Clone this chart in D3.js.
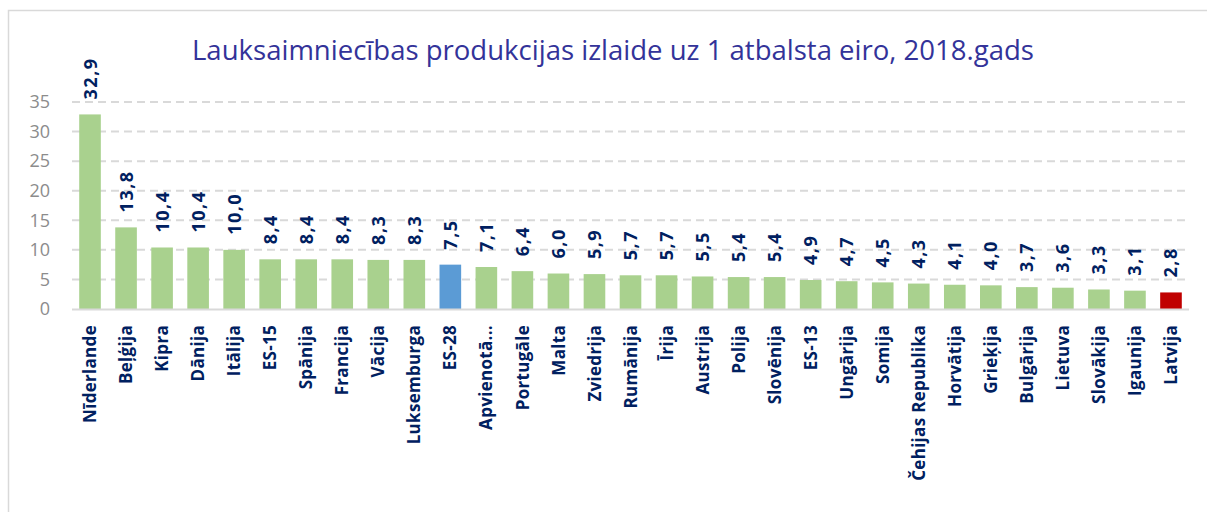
<!DOCTYPE html>
<html>
<head>
<meta charset="utf-8">
<script src="https://cdn.jsdelivr.net/npm/d3@7"></script>
<style>
  html, body { margin: 0; padding: 0; background: #fff; }
  svg { display: block; }
</style>
</head>
<body>
<svg id="chart" width="1207" height="512"></svg>
<script>
// Output per 1 euro of support, 2018
const categories = ["Nīderlande","Beļģija","Kipra","Dānija","Itālija","ES-15","Spānija","Francija","Vācija","Luksemburga","ES-28","Apvienotā...","Portugāle","Malta","Zviedrija","Rumānija","Īrija","Austrija","Polija","Slovēnija","ES-13","Ungārija","Somija","Čehijas Republika","Horvātija","Grieķija","Bulgārija","Lietuva","Slovākija","Igaunija","Latvija"];
const values = [32.9,13.8,10.4,10.4,10.0,8.4,8.4,8.4,8.3,8.3,7.5,7.1,6.4,6.0,5.9,5.7,5.7,5.5,5.4,5.4,4.9,4.7,4.5,4.3,4.1,4.0,3.7,3.6,3.3,3.1,2.8];
const yTicks = [0,5,10,15,20,25,30,35];
const highlightEU = "ES-28";
const highlightLV = "Latvija";
const titleText = "Lauksaimniecības produkcijas izlaide uz 1 atbalsta eiro, 2018.gads";

const svg = d3.select("#chart");
const W = 1207, H = 512;
const plot = { left: 72, right: 1189, top: 102, bottom: 309 };

// outer frame
svg.append("path")
  .attr("d", `M8.5,${H} L8.5,10.5 L${W},10.5`)
  .attr("fill", "none").attr("stroke", "#d9d9d9").attr("stroke-width", 1.5);

const x = d3.scaleBand().domain(categories).range([plot.left, plot.right]).paddingInner(0.4).paddingOuter(0.2);
const y = d3.scaleLinear().domain([0, 35]).range([plot.bottom, plot.top]);

// title
svg.append("text")
  .attr("x", 613).attr("y", 60)
  .attr("text-anchor", "middle")
  .attr("font-family", "Open Sans, sans-serif")
  .attr("font-size", 27)
  .attr("fill", "#333399")
  .attr("textLength", 842).attr("lengthAdjust", "spacingAndGlyphs")
  .text(titleText);

// gridlines
svg.append("g").selectAll("line").data(yTicks.filter(d => d > 0)).join("line")
  .attr("x1", plot.left).attr("x2", plot.right)
  .attr("y1", d => y(d)).attr("y2", d => y(d))
  .attr("stroke", "#d9d9d9").attr("stroke-width", 2).attr("stroke-dasharray", "8,5");

// y axis labels
const yAxis = d3.axisLeft(y).tickValues(yTicks).tickSize(0).tickPadding(0);
const gy = svg.append("g").attr("transform", "translate(50,0)").call(yAxis);
gy.select(".domain").remove();
gy.selectAll("text")
  .attr("font-family", "Open Sans, sans-serif").attr("font-size", 18).attr("fill", "#8c8c8c");

// bars
const colorOf = c => c === highlightEU ? "#5b9bd5" : c === highlightLV ? "#c00000" : "#a9d18e";
svg.append("g").selectAll("rect").data(categories).join("rect")
  .attr("x", c => x(c)).attr("width", x.bandwidth())
  .attr("y", (c, i) => y(values[i])).attr("height", (c, i) => y(0) - y(values[i]))
  .attr("fill", colorOf);

// baseline
svg.append("line").attr("x1", plot.left).attr("x2", plot.right)
  .attr("y1", y(0) + 0.5).attr("y2", y(0) + 0.5)
  .attr("stroke", "#d9d9d9").attr("stroke-width", 2);

// value labels
const fmt = v => d3.format(".1f")(v).replace(".", ",");
svg.append("g").selectAll("text").data(categories).join("text")
  .attr("transform", (c, i) => `translate(${x(c) + x.bandwidth() / 2},${y(values[i]) - 15}) rotate(-90)`)
  .attr("dy", "0.36em")
  .attr("font-family", "Open Sans, sans-serif").attr("font-weight", 700).attr("font-size", 18)
  .attr("letter-spacing", 1.5)
  .attr("fill", "#002060")
  .text((c, i) => fmt(values[i]));

// category labels
const xAxis = d3.axisBottom(x).tickSize(0).tickPadding(0);
const gx = svg.append("g").attr("transform", `translate(0,${plot.bottom})`).call(xAxis);
gx.select(".domain").remove();
gx.selectAll("text")
  .attr("transform", "translate(0,16) rotate(-90)")
  .attr("x", 0).attr("y", 0).attr("dy", "0.36em")
  .attr("text-anchor", "end")
  .attr("font-family", "Open Sans, sans-serif").attr("font-weight", 700).attr("font-size", 17)
  .attr("letter-spacing", 0.3)
  .attr("fill", "#002060");
</script>
</body>
</html>
